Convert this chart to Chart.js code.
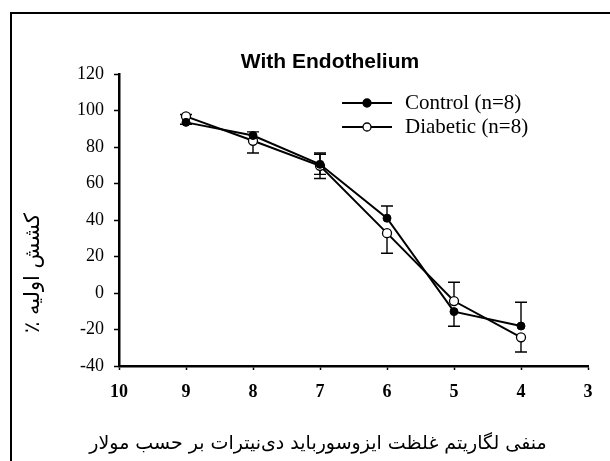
<!DOCTYPE html>
<html><head><meta charset="utf-8">
<script src="https://cdn.jsdelivr.net/npm/chart.js@4/dist/chart.umd.min.js"></script>
<style>
html,body{margin:0;padding:0;background:#fff;width:610px;height:461px;overflow:hidden}
#wrap{position:absolute;left:0;top:0;width:610px;height:461px}
#frame{position:absolute;left:10px;top:12px;width:620px;height:470px;border-left:2px solid #000;border-top:2px solid #000;box-sizing:border-box;pointer-events:none}
</style></head><body>
<div id="wrap"><canvas id="c" width="610" height="461"></canvas></div>
<div id="frame"></div>
<script>
const xValues = [9, 8, 7, 6, 5, 4];
const controlValues = [93.5, 86.3, 70.5, 41, -10.2, -18.1];
const controlErrors = [1, 2, 5.5, 6.7, 8, 13];
const diabeticValues = [96.8, 83.4, 69.7, 32.8, -4.4, -24.3];
const diabeticErrors = [1, 6.7, 7, 11, 10.3, 8];
const xTicks = [10, 9, 8, 7, 6, 5, 4, 3];
const yTicks = [-40, -20, 0, 20, 40, 60, 80, 100, 120];
const seriesLabels = ['Control (n=8)', 'Diabetic (n=8)'];
const chartTitle = 'With Endothelium';
const xAxisTitle = 'منفی لگاریتم غلظت ایزوسورباید دی‌نیترات بر حسب مولار';
const yAxisTitle = 'کشش اولیه ٪';

const errorBars = {
  id: 'errorBars',
  beforeDatasetsDraw(chart) {
    const ctx = chart.ctx, xs = chart.scales.x, ys = chart.scales.y;
    ctx.save();
    ctx.strokeStyle = '#000';
    ctx.lineWidth = 1.4;
    const sets = chart.data.datasets;
    sets.forEach((ds, di) => {
      const other = sets[1 - di];
      ds.data.forEach((p, i) => {
        const e = ds.errors[i];
        const diff = p.y - other.data[i].y;
        const up = diff > -2, down = diff < 2;
        const px = xs.getPixelForValue(p.x);
        const segs = [];
        if (up) segs.push(p.y + e);
        if (down) segs.push(p.y - e);
        segs.forEach(v => {
          const py = ys.getPixelForValue(p.y), pe = ys.getPixelForValue(v);
          ctx.beginPath();
          ctx.moveTo(px, py); ctx.lineTo(px, pe);
          ctx.moveTo(px - 6, pe); ctx.lineTo(px + 6, pe);
          ctx.stroke();
        });
      });
    });
    ctx.restore();
  }
};

const decor = {
  id: 'decor',
  afterDraw(chart) {
    const ctx = chart.ctx;
    ctx.save();
    ctx.fillStyle = '#000';
    ctx.strokeStyle = '#000';
    // title
    ctx.font = 'bold 21px "Liberation Sans"';
    ctx.textAlign = 'center';
    ctx.textBaseline = 'middle';
    ctx.fillText(chartTitle, 330, 62);
    // legend
    const rows = [103, 127];
    chart.data.datasets.forEach((ds, i) => {
      const y = rows[i];
      ctx.lineWidth = 2;
      ctx.beginPath(); ctx.moveTo(342, y); ctx.lineTo(392, y); ctx.stroke();
      ctx.beginPath(); ctx.arc(367, y, 4, 0, Math.PI * 2);
      ctx.fillStyle = ds.pointBackgroundColor; ctx.fill();
      ctx.lineWidth = 1.3; ctx.stroke();
      ctx.fillStyle = '#000';
      ctx.font = '21px "Liberation Serif"';
      ctx.textAlign = 'left';
      ctx.fillText(ds.label, 405, y);
    });
    // x title
    ctx.direction = 'rtl';
    ctx.font = '19px "DejaVu Sans"';
    ctx.textAlign = 'center';
    ctx.fillText(xAxisTitle, 318, 444);
    // y title
    ctx.translate(34, 273);
    ctx.rotate(-Math.PI / 2);
    ctx.font = '21px "DejaVu Sans"';
    ctx.fillText(yAxisTitle, 0, 0);
    ctx.restore();
  }
};

const mk = (vals) => xValues.map((x, i) => ({ x: x, y: vals[i] }));

new Chart(document.getElementById('c'), {
  type: 'line',
  data: {
    datasets: [
      { label: seriesLabels[0], data: mk(controlValues), errors: controlErrors,
        borderColor: '#000', borderWidth: 2, pointRadius: 4, pointBackgroundColor: '#000',
        pointBorderColor: '#000', pointBorderWidth: 1, tension: 0 },
      { label: seriesLabels[1], data: mk(diabeticValues), errors: diabeticErrors,
        borderColor: '#000', borderWidth: 2, pointRadius: 4.5, pointBackgroundColor: '#fff',
        pointBorderColor: '#000', pointBorderWidth: 1.3, tension: 0 }
    ]
  },
  options: {
    responsive: false, animation: false, devicePixelRatio: 1,
    layout: { padding: { left: 0, right: 22, top: 74, bottom: 0 } },
    plugins: { legend: { display: false }, title: { display: false }, tooltip: { enabled: false } },
    scales: {
      x: {
        type: 'linear', reverse: true, min: 3, max: 10,
        afterBuildTicks: s => { s.ticks = xTicks.map(v => ({ value: v })); },
        grid: { drawOnChartArea: false, drawTicks: true, tickLength: 4, color: '#000', tickWidth: 1.5 },
        border: { color: '#000', width: 2.5 },
        ticks: { font: { family: 'Liberation Serif', size: 18, weight: 'bold' }, color: '#000', padding: 12, autoSkip: false, maxRotation: 0 },
        afterFit: s => { s.height = 95; }
      },
      y: {
        min: -40, max: 120,
        afterBuildTicks: s => { s.ticks = yTicks.map(v => ({ value: v })); },
        grid: { drawOnChartArea: false, drawTicks: true, tickLength: 5, color: '#000', tickWidth: 1.5 },
        border: { color: '#000', width: 2.5 },
        ticks: { font: { family: 'Liberation Serif', size: 18 }, color: '#000', padding: 10 },
        afterFit: s => { s.width = 119; }
      }
    }
  },
  plugins: [errorBars, decor]
});
</script>
</body></html>
